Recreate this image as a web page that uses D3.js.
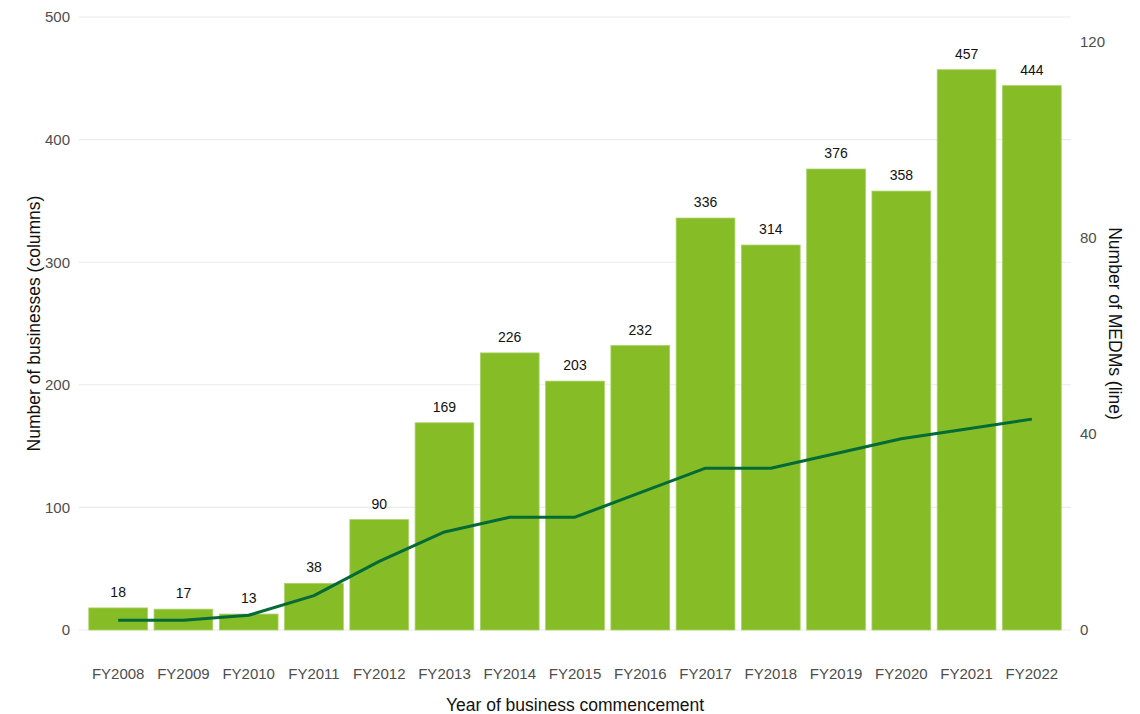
<!DOCTYPE html>
<html>
<head>
<meta charset="utf-8">
<script src="https://cdn.jsdelivr.net/npm/d3@7"></script>
<style>
  html, body { margin: 0; padding: 0; background: #fff; }
  svg { display: block; font-family: "Liberation Sans", Arial, sans-serif; }
</style>
</head>
<body>
<svg id="chart" width="1140" height="714"></svg>
<script>
// Financial years of business commencement
const years = ["FY2008","FY2009","FY2010","FY2011","FY2012","FY2013","FY2014","FY2015",
               "FY2016","FY2017","FY2018","FY2019","FY2020","FY2021","FY2022"];
// Number of businesses (columns, left axis)
const businesses = [18, 17, 13, 38, 90, 169, 226, 203, 232, 336, 314, 376, 358, 457, 444];
// Number of MEDMs (line, right axis)
const medms = [2, 2, 3, 7, 14, 20, 23, 23, 28, 33, 33, 36, 39, 41, 43];
// Axis tick values
const leftTicks = [0, 100, 200, 300, 400, 500];
const rightTicks = [0, 40, 80, 120];

const svg = d3.select("#chart");
const plot = { left: 79, right: 1071, top: 17, bottom: 630 };

const x = d3.scaleBand()
  .domain(years)
  .range([plot.left, plot.right])
  .paddingInner(0.1)
  .paddingOuter(0.15);

const yLeft = d3.scaleLinear().domain([0, 500]).range([plot.bottom, plot.top]);
const yRight = d3.scaleLinear().domain([0, 125]).range([plot.bottom, plot.top]);

// Horizontal grid lines for the left axis
svg.append("g")
  .selectAll("line")
  .data(leftTicks)
  .join("line")
  .attr("x1", plot.left).attr("x2", plot.right)
  .attr("y1", d => yLeft(d)).attr("y2", d => yLeft(d))
  .attr("stroke", "#ebebeb").attr("stroke-width", 1.1);

// Columns
svg.append("g")
  .selectAll("rect")
  .data(years)
  .join("rect")
  .attr("x", d => x(d))
  .attr("width", x.bandwidth())
  .attr("y", (d, i) => yLeft(businesses[i]))
  .attr("height", (d, i) => yLeft(0) - yLeft(businesses[i]))
  .attr("fill", "#86bc25")
  .attr("stroke", "#a9d265")
  .attr("stroke-width", 0.8);

// Column value labels
svg.append("g")
  .selectAll("text")
  .data(years)
  .join("text")
  .attr("x", d => x(d) + x.bandwidth() / 2)
  .attr("y", (d, i) => yLeft(businesses[i]) - 11)
  .attr("text-anchor", "middle")
  .attr("font-size", 14)
  .attr("fill", "#111")
  .text((d, i) => businesses[i]);

// MEDM line
const line = d3.line()
  .x(d => x(d.year) + x.bandwidth() / 2)
  .y(d => yRight(d.value));

svg.append("path")
  .datum(years.map((yr, i) => ({ year: yr, value: medms[i] })))
  .attr("d", line)
  .attr("fill", "none")
  .attr("stroke", "#046a38")
  .attr("stroke-width", 3)
  .attr("stroke-linejoin", "round");

// Left axis
const leftAxis = svg.append("g")
  .attr("transform", `translate(${plot.left},0)`)
  .call(d3.axisLeft(yLeft).tickValues(leftTicks).tickSize(0).tickPadding(9));
leftAxis.select(".domain").remove();
leftAxis.selectAll("text").attr("font-size", 15).attr("fill", "#4d4d4d").attr("font-family", null);

// Right axis
const rightAxis = svg.append("g")
  .attr("transform", `translate(${plot.right},0)`)
  .call(d3.axisRight(yRight).tickValues(rightTicks).tickSize(0).tickPadding(9));
rightAxis.select(".domain").remove();
rightAxis.selectAll("text").attr("font-size", 15).attr("fill", "#4d4d4d").attr("font-family", null);

// Bottom axis
const bottomAxis = svg.append("g")
  .attr("transform", `translate(0,${plot.bottom})`)
  .call(d3.axisBottom(x).tickSize(0).tickPadding(38));
bottomAxis.select(".domain").remove();
bottomAxis.selectAll("text").attr("font-size", 15).attr("fill", "#4d4d4d").attr("font-family", null);

// Axis titles
svg.append("text")
  .attr("x", (plot.left + plot.right) / 2)
  .attr("y", 711)
  .attr("text-anchor", "middle")
  .attr("font-size", 17.5)
  .attr("fill", "#111")
  .text("Year of business commencement");

svg.append("text")
  .attr("transform", `translate(40,${(plot.top + plot.bottom) / 2}) rotate(-90)`)
  .attr("text-anchor", "middle")
  .attr("font-size", 17.5)
  .attr("fill", "#111")
  .text("Number of businesses (columns)");

svg.append("text")
  .attr("transform", `translate(1109,${(plot.top + plot.bottom) / 2}) rotate(90)`)
  .attr("text-anchor", "middle")
  .attr("font-size", 17.5)
  .attr("fill", "#111")
  .text("Number of MEDMs (line)");
</script>
</body>
</html>
